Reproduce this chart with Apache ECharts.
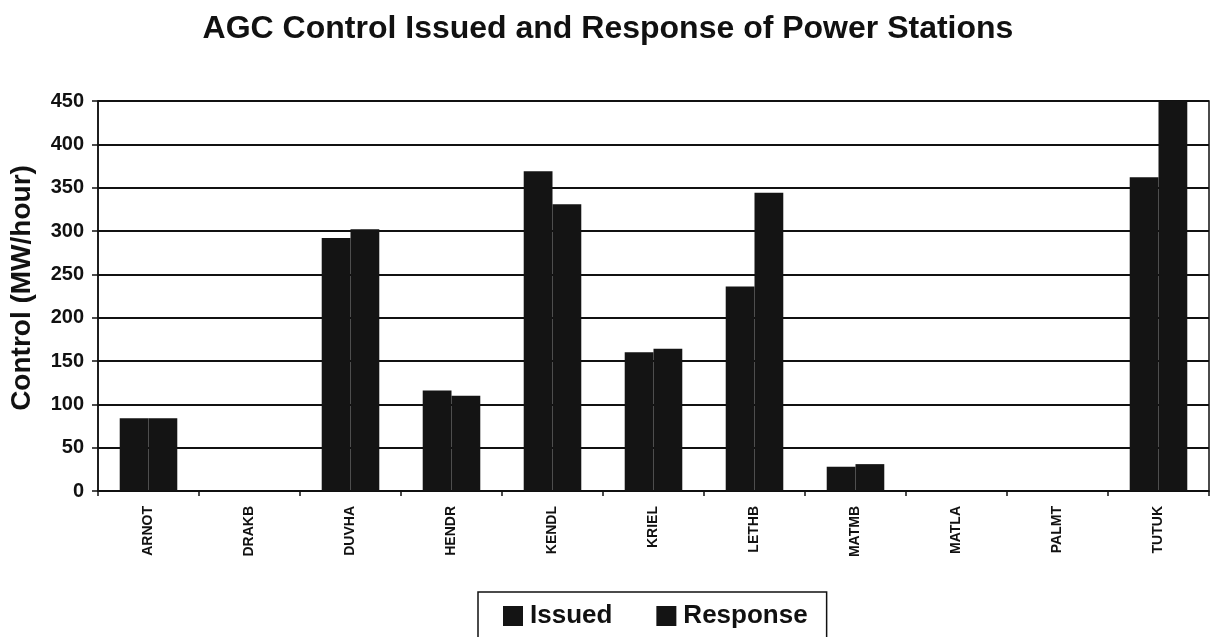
<!DOCTYPE html>
<html>
<head>
<meta charset="utf-8">
<script src="https://cdn.jsdelivr.net/npm/echarts@6/dist/echarts.min.js"></script>
<style>html,body{margin:0;padding:0;background:#fff;}#c{width:1216px;height:637px;}</style>
</head>
<body>
<div id="c"></div>
<script>
const categories = ['ARNOT','DRAKB','DUVHA','HENDR','KENDL','KRIEL','LETHB','MATMB','MATLA','PALMT','TUTUK'];
const issued   = [84, 0, 292, 116, 369, 160, 236, 28, 0, 0, 362];
const response = [84, 0, 302, 110, 331, 164, 344, 31, 0, 0, 450];
const yTicks = [0, 50, 100, 150, 200, 250, 300, 350, 400, 450];

const font = 'Liberation Sans, Arial, sans-serif';
const chart = echarts.init(document.getElementById('c'));
chart.setOption({
  backgroundColor: '#fff',
  animation: false,
  title: {
    text: 'AGC Control Issued and Response of Power Stations',
    left: 'center', top: 8,
    textStyle: {fontFamily: font, fontWeight: 'bold', fontSize: 32, color: '#111'}
  },
  legend: {
    data: ['Issued', 'Response'],
    left: 478, top: 592,
    itemWidth: 20, itemHeight: 20, itemGap: 44,
    icon: 'rect',
    padding: [11, 19, 20, 25],
    borderColor: '#111', borderWidth: 1.5,
    textStyle: {fontFamily: font, fontWeight: 'bold', fontSize: 26, color: '#111', padding: [0, 0, 0, 2]}
  },
  grid: {left: 96, right: 7, top: 101, bottom: 146, show: true, borderColor: '#111', borderWidth: 1.5, backgroundColor: 'transparent'},
  xAxis: {
    type: 'category', data: categories,
    axisLine: {lineStyle: {color: '#111', width: 1.5}},
    axisTick: {show: true, length: 5, lineStyle: {color: '#111', width: 1.5}},
    axisLabel: {rotate: 90, margin: 15, fontFamily: font, fontWeight: 'bold', fontSize: 14, color: '#111'}
  },
  yAxis: {
    type: 'value', min: 0, max: 450, interval: 50,
    name: 'Control (MW/hour)', nameLocation: 'middle', nameGap: 62,
    nameTextStyle: {fontFamily: font, fontWeight: 'bold', fontSize: 28, color: '#111', padding: [0, 0, 0, 16]},
    axisLine: {show: true, lineStyle: {color: '#111', width: 1.5}},
    axisTick: {show: true, length: 6, lineStyle: {color: '#111', width: 1.5}},
    axisLabel: {margin: 14, fontFamily: font, fontWeight: 'bold', fontSize: 20, color: '#111',
      formatter: v => yTicks.includes(v) ? String(v) : ''},
    splitLine: {show: true, lineStyle: {color: '#111', width: 2}}
  },
  series: [
    {name: 'Issued', type: 'bar', data: issued, barGap: '0%', barCategoryGap: '43%',
      itemStyle: {color: '#141414'}},
    {name: 'Response', type: 'bar', data: response, barGap: '0%', barCategoryGap: '43%',
      itemStyle: {color: '#141414'}}
  ]
});
</script>
</body>
</html>
